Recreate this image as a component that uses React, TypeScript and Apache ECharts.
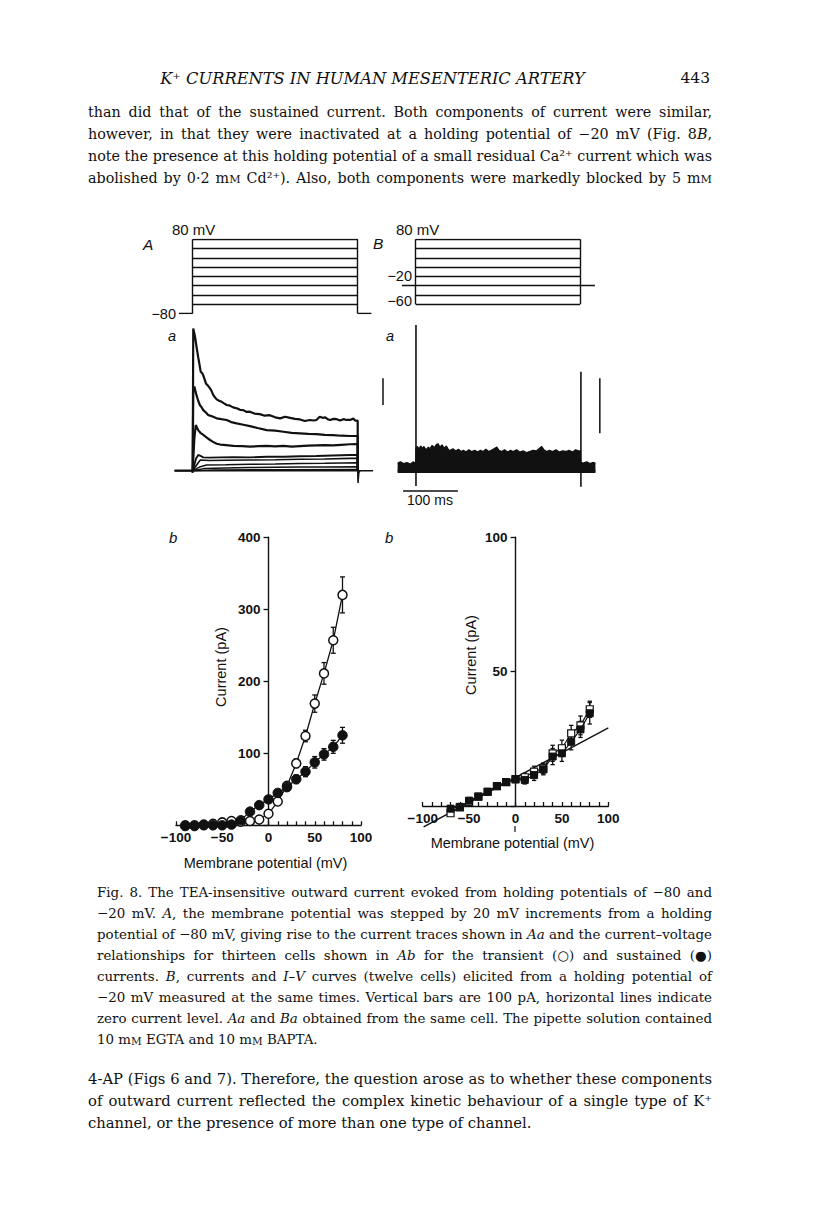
import React, { useEffect, useRef } from 'react';
import * as echarts from 'echarts';

// ================= DATA =================
// Voltage protocols (mV, ms)
const stepPotentials = [-60, -40, -20, 0, 20, 40, 60, 80];
const holdingA = -80;
const holdingB = -20;
const pulseOn = 0;
const pulseOff = 300;
const protocolPreA = -25;
const protocolPostA = 325;
const protocolPreB = -25;
const protocolPostB = 327;

// Panel Aa current traces [ms, pA]
const traceAa80 = [[-33, 0], [-1, 0], [0, -8], [1, 533], [4, 505], [7, 464], [10, 425], [12, 402], [14.5, 371], [17, 366], [19, 358], [22, 340], [24, 327], [28, 318], [31.5, 308], [34, 300], [37.5, 283], [40, 276], [43.6, 267], [48, 262], [52.7, 258], [57, 252], [61.8, 246], [66, 245], [70.9, 240], [75, 236], [80, 234], [86, 228], [92, 227], [98, 220], [104, 221], [112, 214], [122, 212], [131, 206], [140, 208], [150, 200], [159, 196], [168, 202], [177, 198], [186, 194], [195, 192], [204, 186], [213, 190], [220, 188], [225, 190], [231, 202], [236, 198], [241, 200], [246, 192], [250, 190], [256, 194], [262, 193], [268, 188], [274, 193], [280, 190], [286, 190], [292, 195], [296, 187], [300, 188], [300, 0]];
const traceAa60 = [[0, 0], [1, 300], [3, 315], [5, 298], [7, 282], [10, 262], [13, 246], [16, 238], [19.3, 227], [24, 218], [28.5, 208], [35, 204], [43.6, 196], [52, 193], [61.8, 190], [70, 182], [80, 177], [92, 172], [104, 167], [118, 160], [134.5, 152], [150, 150], [165, 146], [180, 142], [195, 140], [210, 138], [225, 137], [240, 134], [255.5, 133], [270, 131], [286, 130], [300, 130], [300, 0]];
const traceAa40 = [[0, 0], [3, 120], [5.6, 171], [8, 160], [10, 152], [14, 142], [19.3, 134], [25, 125], [31.5, 115], [37, 108], [43.6, 101], [50, 98], [55.8, 97], [65, 95], [74, 93], [90, 92], [104, 90], [120, 92], [135, 93], [150, 91], [165, 93], [180, 90], [195, 92], [210, 94], [225, 95], [240, 96], [255, 95], [270, 97], [286, 99], [300, 100], [300, 0]];
const traceAa20 = [[0, 0], [6, 45], [10, 59], [15, 55], [19, 50], [30, 49], [50, 50], [75, 51], [104, 50], [135, 52], [165, 52], [195, 54], [225, 55], [255, 57], [286, 59], [300, 59], [300, 0]];
const traceAa0 = [[0, 0], [10, 30], [14, 40], [30, 38], [60, 39], [104, 40], [150, 41], [195, 43], [240, 44], [286, 46], [300, 46], [300, 0]];
const traceAaM20 = [[0, 0], [14, 15], [25, 21], [60, 22], [104, 24], [150, 25], [195, 27], [240, 28], [300, 30], [300, 0]];
const traceAaM40 = [[0, 0], [20, 8], [60, 10], [104, 12], [150, 13], [195, 14], [240, 14], [300, 15], [300, 0]];
const traceAaM60 = [[0, 0], [40, 3], [150, 4], [300, 5], [300, 0]];
const aaBaseline = [[-33, 0], [328, 0]];
const aaTail = [[300, 0], [300.6, -46], [302, -8], [304, 0]];

// Panel Ba [ms, pA]
const baNoiseUpper = [[-33, 14], [-28, 16], [-22, 13], [-16, 15], [-10, 12], [-5, 16], [0, 14], [0.5, 42], [3, 44], [6, 40], [9, 45], [12, 41], [15, 44], [19, 38], [23, 43], [26, 40], [30, 46], [34, 42], [38, 48], [41, 49], [44, 43], [48, 47], [52, 41], [56, 45], [60, 38], [63, 37], [68, 40], [73, 36], [78, 39], [83, 35], [87, 37], [92, 34], [97, 38], [102, 35], [108, 37], [113, 34], [118, 37], [123, 35], [128, 39], [133, 35], [138, 37], [143, 40], [148, 43], [152, 37], [157, 35], [162, 38], [168, 34], [173, 37], [178, 35], [184, 38], [190, 34], [196, 36], [202, 33], [208, 35], [214, 37], [220, 36], [226, 41], [230, 44], [234, 38], [239, 35], [244, 37], [250, 35], [256, 38], [262, 34], [268, 36], [274, 35], [280, 37], [286, 34], [292, 38], [297, 36], [300.5, 36], [301, 15], [306, 14], [312, 16], [318, 13], [323, 15], [328, 14]];
const baNoiseLower = -4;
const baSpikeOn = [[0.5, -28], [0.5, 265]];
const baSpikeOff = [[301.5, -29], [301.5, 180]];
const baZero = [[-33, 0], [328, 0]];

// Scale bars (100 pA, 100 ms)
const scaleBarAa = [[346, 246], [346, 346]];
const scaleBarBa = [[336, 68], [336, 168]];
const timeBar = [[-23, -37], [77, -37]];

// Panel Ab: I-V from -80 mV (pA)
const ivVoltageA = [-90, -80, -70, -60, -50, -40, -30, -20, -10, 0, 10, 20, 30, 40, 50, 60, 70, 80];
const transientA = [0, 0, 1, 2, 4, 6, 5, 6, 8, 16, 33, 55, 86, 124, 169, 211, 257, 320];
const transientErrA = [1, 1, 1, 1, 1, 1, 1, 1, 2, 2, 3, 4, 6, 8, 12, 15, 18, 25];
const sustainedA = [-1, -1, 0, 0, 0, 1, 7, 19, 28, 36, 45, 53, 64, 74.5, 87.5, 98.5, 109, 125];
const sustainedErrA = [1, 1, 1, 1, 1, 1, 2, 2, 2, 3, 4, 5, 6, 7, 8, 8, 9, 11];

// Panel Bb: I-V from -20 mV (pA)
const ivVoltageB = [-70, -60, -50, -40, -30, -20, -10, 0, 10, 20, 30, 40, 50, 60, 70, 80];
const transientB = [-2.7, -0.5, 1.5, 3.5, 5.3, 7.4, 8.9, 10, 10.7, 12.8, 14, 19.6, 21.5, 27, 30, 36];
const transientErrB = [1, 1, 1, 1, 1, 1, 1, 1, 1.5, 2, 2, 3, 3, 3, 3.5, 3];
const sustainedB = [-1, -0.3, 2, 3.5, 5.3, 7.4, 8.9, 9.9, 9.7, 11.5, 13.6, 18.4, 19.6, 23.9, 28.5, 34.5];
const sustainedErrB = [1, 1, 1, 1, 1, 1, 1, 1, 1.5, 2, 2, 3, 3, 3, 3, 4];
const fitVoltageB = [-99, 100];
const fitCurrentB = [-7.8, 29.1];

// Texts
const headerTitle = 'K⁺ CURRENTS IN HUMAN MESENTERIC ARTERY';
const pageNumber = '443';
const paragraphTop = [
  'than did that of the sustained current. Both components of current were similar,',
  'however, in that they were inactivated at a holding potential of −20 mV (Fig. 8{i|B},',
  'note the presence at this holding potential of a small residual Ca²⁺ current which was',
  'abolished by 0·2 m{sc|M} Cd²⁺). Also, both components were markedly blocked by 5 m{sc|M}',
];
const captionLines = [
  'Fig. 8. The TEA-insensitive outward current evoked from holding potentials of −80 and',
  '−20 mV. {i|A}, the membrane potential was stepped by 20 mV increments from a holding',
  'potential of −80 mV, giving rise to the current traces shown in {i|Aa} and the current–voltage',
  'relationships for thirteen cells shown in {i|Ab} for the transient (○) and sustained (●)',
  'currents. {i|B}, currents and {i|I–V} curves (twelve cells) elicited from a holding potential of',
  '−20 mV measured at the same times. Vertical bars are 100 pA, horizontal lines indicate',
  'zero current level. {i|Aa} and {i|Ba} obtained from the same cell. The pipette solution contained',
  '10 m{sc|M} EGTA and 10 m{sc|M} BAPTA.',
];
const paragraphBottom = [
  '4-AP (Figs 6 and 7). Therefore, the question arose as to whether these components',
  'of outward current reflected the complex kinetic behaviour of a single type of K⁺',
  'channel, or the presence of more than one type of channel.',
];
const ivTickMinus = (v: number) => (v < 0 ? '−' + Math.abs(v) : String(v));

// ================= HELPERS =================
const INK = '#111111';
const SANS = '"Liberation Sans", Arial, sans-serif';
const SERIF = '"DejaVu Serif", serif';

let measureCtx: CanvasRenderingContext2D | null = null;
function textW(t: string, font: string) {
  if (!measureCtx) measureCtx = document.createElement('canvas').getContext('2d');
  measureCtx!.font = font;
  return measureCtx!.measureText(t).width;
}
function fontFor(s: string | null, size: number, family: string) {
  if (s === 'i') return `italic ${size}px ${family}`;
  if (s === 'sc') return `${size * 0.78}px ${family}`;
  return `${size}px ${family}`;
}
function parseTokens(line: string) {
  const out: { t: string; s: string | null }[] = [];
  const re = /\{([a-z]+)\|([^}]*)\}/g;
  let last = 0;
  let m: RegExpExecArray | null;
  while ((m = re.exec(line))) {
    if (m.index > last) out.push({ t: line.slice(last, m.index), s: null });
    out.push({ t: m[2], s: m[1] });
    last = re.lastIndex;
  }
  if (last < line.length) out.push({ t: line.slice(last), s: null });
  return out;
}
function contentInfo(line: string, size: number, family: string) {
  let w = 0;
  let n = 0;
  for (const tk of parseTokens(line)) {
    const f = fontFor(tk.s, size, family);
    const words = tk.t.split(' ');
    n += words.length - 1;
    for (const wd of words) if (wd) w += textW(wd, f);
  }
  return { w, n, space: textW(' ', fontFor(null, size, family)) };
}
function fitSize(lines: string[], pref: number, family: string, width: number) {
  let maxNat = 0;
  lines.forEach((l) => {
    const c = contentInfo(l, pref, family);
    maxNat = Math.max(maxNat, c.w + c.n * c.space);
  });
  return maxNat > width ? (pref * width) / maxNat : pref;
}
function textBlock(lines: string[], x: number, y0: number, dy: number, width: number, pref: number, family: string, justifyLast: boolean) {
  const size = fitSize(lines, pref, family, width);
  return lines.map((line, i) => {
    const c = contentInfo(line, size, family);
    const justify = i < lines.length - 1 || justifyLast;
    const gap = justify && c.n > 0 ? (width - c.w) / c.n : c.space;
    const rich = parseTokens(line)
      .map((tk) => (tk.s ? `{${tk.s}|${tk.t}}` : tk.t.split(' ').join('{g| }')))
      .join('');
    return {
      type: 'text',
      x,
      y: y0 + i * dy,
      silent: true,
      style: {
        text: rich,
        fontSize: size,
        fontFamily: family,
        fill: INK,
        align: 'left',
        verticalAlign: 'middle',
        rich: {
          g: { width: gap, fontSize: size, fontFamily: family, fill: INK },
          i: { fontStyle: 'italic', fontSize: size, fontFamily: family, fill: INK },
          sc: { fontSize: size * 0.78, fontFamily: family, fill: INK, verticalAlign: 'bottom' },
        },
      },
    };
  });
}
function gridFrom(px0: number, sx: number, xmin: number, xmax: number, py0: number, sy: number, ymin: number, ymax: number) {
  return { left: px0 + xmin * sx, width: (xmax - xmin) * sx, top: py0 - ymax * sy, height: (ymax - ymin) * sy, outerBoundsMode: 'none', containLabel: false };
}
function protocolSegments(steps: number[], holding: number, pre: number, post: number) {
  const segs: number[][][] = [];
  steps.forEach((v) => segs.push([[pulseOn, v], [pulseOff, v]]));
  const lo = Math.min(holding, ...steps);
  const hi = Math.max(...steps);
  segs.push([[pulseOn, lo], [pulseOn, hi]]);
  segs.push([[pulseOff, lo], [pulseOff, hi]]);
  segs.push([[pre, holding], [pulseOn, holding]]);
  segs.push([[pulseOff, holding], [post, holding]]);
  return segs.map((c) => ({ coords: c }));
}
function errorBars(idx: number, xs: number[], ys: number[], errs: number[], cap: number) {
  return {
    type: 'custom',
    xAxisIndex: idx,
    yAxisIndex: idx,
    silent: true,
    z: 2,
    clip: false,
    encode: { x: 0, y: [1, 2] },
    data: xs.map((x, i) => [x, ys[i] - errs[i], ys[i] + errs[i]]),
    renderItem: (params: any, api: any) => {
      const lo = api.coord([api.value(0), api.value(1)]);
      const hi = api.coord([api.value(0), api.value(2)]);
      const style = { stroke: INK, lineWidth: 1.3, fill: 'none' };
      return {
        type: 'group',
        children: [
          { type: 'line', shape: { x1: lo[0], y1: lo[1], x2: hi[0], y2: hi[1] }, style },
          { type: 'line', shape: { x1: lo[0] - cap, y1: lo[1], x2: lo[0] + cap, y2: lo[1] }, style },
          { type: 'line', shape: { x1: hi[0] - cap, y1: hi[1], x2: hi[0] + cap, y2: hi[1] }, style },
        ],
      };
    },
  };
}
function hiddenAxis(idx: number, min: number, max: number) {
  return { type: 'value', gridIndex: idx, min, max, show: false, splitLine: { show: false } };
}
function traceSeries(idx: number, data: number[][], width: number) {
  return {
    type: 'line', xAxisIndex: idx, yAxisIndex: idx, data, showSymbol: false, symbol: 'none', silent: true, clip: false,
    lineStyle: { color: INK, width }, z: 3,
  };
}
function segSeries(idx: number, segs: any[], width: number) {
  return {
    type: 'lines', coordinateSystem: 'cartesian2d', xAxisIndex: idx, yAxisIndex: idx, silent: true,
    data: segs, lineStyle: { color: INK, width, opacity: 1 }, z: 4,
  };
}

const tickLabelStyle = { fontSize: 13.5, fontFamily: SANS, color: INK, fontWeight: 'bold' };
function ivXAxis(idx: number) {
  return {
    type: 'value', gridIndex: idx, min: -100, max: 100, interval: 50,
    axisLine: { onZero: false, lineStyle: { color: INK, width: 1.4 } },
    axisTick: { show: true, inside: true, length: 4, lineStyle: { color: INK, width: 1.3 } },
    minorTick: { show: true, splitNumber: 5, length: 4, lineStyle: { color: INK, width: 1.3 } },
    splitLine: { show: false }, minorSplitLine: { show: false },
    axisLabel: { formatter: ivTickMinus, margin: 5, showMinLabel: true, showMaxLabel: true, ...tickLabelStyle },
  };
}
// y axis drawn at V = 0 (middle of the grid) through an inward offset
function ivYAxis(idx: number, max: number, interval: number, inwardOffset: number) {
  return {
    type: 'value', gridIndex: idx, min: 0, max, interval, position: 'left', offset: -inwardOffset,
    axisLine: { show: true, onZero: false, lineStyle: { color: INK, width: 1.4 } },
    axisTick: { show: true, inside: false, length: 5, lineStyle: { color: INK, width: 1.3 } },
    splitLine: { show: false },
    axisLabel: { formatter: (v: number) => (v === 0 ? '' : String(v)), margin: 8, ...tickLabelStyle },
  };
}

function label(text: string, x: number, y: number, opts: any = {}) {
  return {
    type: 'text', x, y, silent: true, rotation: opts.rotation || 0,
    style: {
      text, fontSize: opts.size || 14, fontFamily: SANS, fontStyle: opts.italic ? 'italic' : 'normal',
      fontWeight: opts.bold ? 'bold' : 'normal',
      fill: INK, align: opts.align || 'left', verticalAlign: 'middle',
    },
  };
}

function buildOption() {
  const hdrSize = (16 * 425) / textW(headerTitle, `italic 16px ${SERIF}`);
  const graphics: any[] = [
    { type: 'text', x: 372.5, y: 78, silent: true, style: { text: headerTitle, fontSize: hdrSize, fontStyle: 'italic', fontFamily: SERIF, fill: INK, align: 'center', verticalAlign: 'middle' } },
    { type: 'text', x: 710, y: 78, silent: true, style: { text: pageNumber, fontSize: 15.5, fontFamily: SERIF, fill: INK, align: 'right', verticalAlign: 'middle' } },
    ...textBlock(paragraphTop, 88, 112, 22, 624, 16, SERIF, true),
    ...textBlock(captionLines, 97, 892, 21.1, 615, 14, SERIF, false),
    ...textBlock(paragraphBottom, 88, 1078, 22, 624, 16, SERIF, false),
    // figure labels
    label('A', 143, 244, { italic: true, size: 15.5 }),
    label('B', 373, 243, { italic: true, size: 15.5 }),
    label('80 mV', 172, 229.5, { size: 15 }),
    label('−80', 176, 314, { align: 'right', size: 14.5 }),
    label('80 mV', 396, 229.5, { size: 15 }),
    label('−20', 412, 276, { align: 'right', size: 14.5 }),
    label('−60', 412, 301, { align: 'right', size: 14.5 }),
    label('a', 168, 336, { italic: true, size: 14.5 }),
    label('a', 386, 336, { italic: true, size: 14.5 }),
    label('100 ms', 430, 500, { align: 'center', size: 14 }),
    label('b', 169, 537, { italic: true, size: 15 }),
    label('b', 385, 537, { italic: true, size: 15 }),
    label('Current (pA)', 220.5, 667, { align: 'center', rotation: Math.PI / 2, size: 14.5 }),
    label('Current (pA)', 470.5, 655, { align: 'center', rotation: Math.PI / 2, size: 14.5 }),
    label('Membrane potential (mV)', 265.5, 863, { align: 'center', size: 14.5 }),
    label('Membrane potential (mV)', 512.5, 843, { align: 'center', size: 14.5 }),
    { type: 'line', silent: true, shape: { x1: 515, y1: 826, x2: 515, y2: 832 }, style: { stroke: INK, lineWidth: 1.2 } },
  ];

  const grids = [
    gridFrom(192.7, 0.55, -25, 325, 276.4, 0.4638, -80, 80),
    gridFrom(415.7, 0.548, -25, 327, 276.4, 0.4638, -80, 80),
    gridFrom(192.7, 0.55, -33, 350, 470.7, 0.267, -60, 540),
    gridFrom(415.7, 0.548, -33, 340, 470.7, 0.55, -60, 270),
    { left: 176, width: 185, top: 537.3, height: 288, outerBoundsMode: 'none', containLabel: false },
    { left: 422.7, width: 185.6, top: 537.3, height: 268.7, outerBoundsMode: 'none', containLabel: false },
  ];
  const xAxes = [
    hiddenAxis(0, -25, 325), hiddenAxis(1, -25, 327), hiddenAxis(2, -33, 350), hiddenAxis(3, -33, 340),
    ivXAxis(4), ivXAxis(5),
  ];
  const yAxes = [
    hiddenAxis(0, -80, 80), hiddenAxis(1, -80, 80), hiddenAxis(2, -60, 540), hiddenAxis(3, -60, 270),
    ivYAxis(4, 400, 100, 185 / 2), ivYAxis(5, 100, 50, 185.6 / 2),
  ];

  const series: any[] = [
    segSeries(0, protocolSegments(stepPotentials, holdingA, protocolPreA, protocolPostA), 1.4),
    segSeries(1, protocolSegments(stepPotentials, holdingB, protocolPreB, protocolPostB), 1.4),
    // Aa
    traceSeries(2, aaBaseline, 1.5),
    traceSeries(2, aaTail, 1.5),
    traceSeries(2, traceAaM60, 1.4),
    traceSeries(2, traceAaM40, 1.4),
    traceSeries(2, traceAaM20, 1.5),
    traceSeries(2, traceAa0, 1.6),
    traceSeries(2, traceAa20, 1.9),
    traceSeries(2, traceAa40, 2.2),
    traceSeries(2, traceAa60, 2.2),
    traceSeries(2, traceAa80, 2.2),
    traceSeries(2, scaleBarAa, 1.5),
    // Ba
    {
      type: 'line', xAxisIndex: 3, yAxisIndex: 3, data: baNoiseUpper, showSymbol: false, symbol: 'none', silent: true, clip: false,
      lineStyle: { color: INK, width: 1.2 }, areaStyle: { origin: baNoiseLower, color: INK, opacity: 1 }, z: 3,
    },
    traceSeries(3, baZero, 1.5),
    traceSeries(3, baSpikeOn, 1.6),
    traceSeries(3, baSpikeOff, 1.6),
    traceSeries(3, scaleBarBa, 1.5),
    traceSeries(3, timeBar, 1.5),
    // Ab
    errorBars(4, ivVoltageA, transientA, transientErrA, 2.5),
    errorBars(4, ivVoltageA, sustainedA, sustainedErrA, 2.5),
    {
      type: 'line', xAxisIndex: 4, yAxisIndex: 4, silent: true, clip: false, z: 3,
      data: ivVoltageA.map((v, i) => [v, transientA[i]]),
      symbol: 'circle', symbolSize: 9, showSymbol: true,
      itemStyle: { color: '#fff', borderColor: INK, borderWidth: 1.5 },
      lineStyle: { color: INK, width: 1.3 },
    },
    {
      type: 'line', xAxisIndex: 4, yAxisIndex: 4, silent: true, clip: false, z: 4,
      data: ivVoltageA.map((v, i) => [v, sustainedA[i]]),
      symbol: 'circle', symbolSize: 9.5, showSymbol: true,
      itemStyle: { color: INK, borderColor: INK, borderWidth: 1 },
      lineStyle: { color: INK, width: 1.3 },
    },
    // Bb
    {
      type: 'line', xAxisIndex: 5, yAxisIndex: 5, silent: true, clip: false, z: 3,
      data: fitVoltageB.map((v, i) => [v, fitCurrentB[i]]), showSymbol: false, symbol: 'none',
      lineStyle: { color: INK, width: 1.4 },
    },
    errorBars(5, ivVoltageB, transientB, transientErrB, 2.2),
    errorBars(5, ivVoltageB, sustainedB, sustainedErrB, 2.2),
    {
      type: 'line', xAxisIndex: 5, yAxisIndex: 5, silent: true, clip: false, z: 4,
      data: ivVoltageB.map((v, i) => [v, transientB[i]]),
      symbol: 'rect', symbolSize: 7, showSymbol: true,
      itemStyle: { color: '#fff', borderColor: INK, borderWidth: 1.2 },
      lineStyle: { color: INK, width: 1.2 },
    },
    {
      type: 'line', xAxisIndex: 5, yAxisIndex: 5, silent: true, clip: false, z: 5,
      data: ivVoltageB.map((v, i) => [v, sustainedB[i]]),
      symbol: 'rect', symbolSize: 7, showSymbol: true,
      itemStyle: { color: INK, borderColor: INK, borderWidth: 1 },
      lineStyle: { color: INK, width: 1.2 },
    },
  ];

  return {
    animation: false,
    backgroundColor: '#ffffff',
    tooltip: { show: false },
    grid: grids,
    xAxis: xAxes,
    yAxis: yAxes,
    series,
    graphic: { elements: graphics },
  };
}

export default function App() {
  const ref = useRef<HTMLDivElement>(null);
  useEffect(() => {
    const chart = echarts.init(ref.current!, undefined, { renderer: 'svg', width: 816, height: 1208 });
    chart.setOption(buildOption() as any);
    return () => chart.dispose();
  }, []);
  return <div ref={ref} style={{ position: 'absolute', left: 0, top: 0, width: 816, height: 1208, background: '#fff' }} />;
}
